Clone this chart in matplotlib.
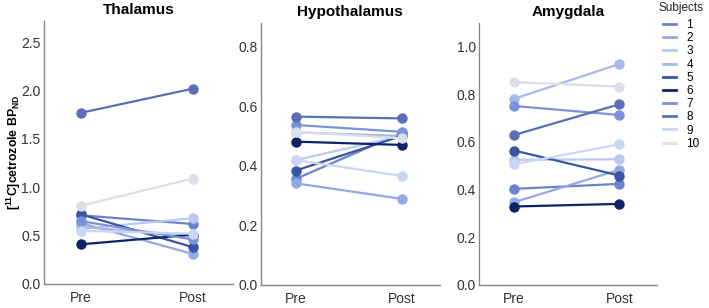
import numpy as np
import matplotlib
matplotlib.use("Agg")
import matplotlib.pyplot as plt
from matplotlib.lines import Line2D

plt.rcParams['font.family'] = ['Liberation Sans', 'DejaVu Sans']
plt.rcParams['mathtext.fontset'] = 'custom'
plt.rcParams['mathtext.rm'] = 'Liberation Sans'
plt.rcParams['mathtext.bf'] = 'Liberation Sans:bold'

# data (subjects 1..10)
subjects = ['1', '2', '3', '4', '5', '6', '7', '8', '9', '10']
colors = ['#6a84cb', '#93a9e1', '#b9c9f0', '#a6b9eb', '#3a54a4', '#0c2366',
          '#7a93d8', '#5a6fb5', '#cad6f4', '#dcdfea']
timepoints = ['Pre', 'Post']

thal_pre = [0.71, 0.63, 0.57, 0.59, 0.72, 0.41, 0.65, 1.77, 0.55, 0.81]
thal_post = [0.62, 0.31, 0.68, 0.50, 0.38, 0.51, 0.46, 2.02, 0.52, 1.09]

hypo_pre = [0.356, 0.341, 0.419, 0.512, 0.384, 0.481, 0.537, 0.565, 0.419, 0.514]
hypo_post = [0.51, 0.289, 0.50, 0.50, 0.50, 0.47, 0.514, 0.559, 0.366, 0.492]

amyg_pre = [0.403, 0.347, 0.525, 0.781, 0.564, 0.329, 0.751, 0.629, 0.506, 0.851]
amyg_post = [0.424, 0.483, 0.527, 0.927, 0.459, 0.340, 0.713, 0.758, 0.590, 0.832]

regions = ['Thalamus', 'Hypothalamus', 'Amygdala']
pre_vals = [thal_pre, hypo_pre, amyg_pre]
post_vals = [thal_post, hypo_post, amyg_post]
ylims = [2.72, 0.88, 1.10]
yticks = [np.arange(0, 2.6, 0.5), np.arange(0, 0.81, 0.2), np.arange(0, 1.01, 0.2)]
axpos = [[0.062, 0.078, 0.267, 0.854],
         [0.368, 0.075, 0.252, 0.851],
         [0.676, 0.075, 0.251, 0.851]]

fig = plt.figure(figsize=(7.09, 3.08), dpi=100)

for k in range(3):
    ax = fig.add_axes(axpos[k])
    for i in range(len(subjects)):
        ax.plot([0, 1], [pre_vals[k][i], post_vals[k][i]], '-o', color=colors[i],
                lw=1.6, ms=6.5, solid_capstyle='round')
    ax.set_xlim(-0.33, 1.36)
    ax.set_ylim(0, ylims[k])
    ax.set_yticks(yticks[k])
    ax.set_yticklabels([f"{v:.1f}" for v in yticks[k]])
    ax.set_xticks([0, 1])
    ax.set_xticklabels(timepoints)
    ax.tick_params(length=0, labelsize=10, colors='#333333')
    ax.tick_params(axis='y', pad=2.5)
    ax.tick_params(axis='x', pad=5)
    for s in ['top', 'right']:
        ax.spines[s].set_visible(False)
    for s in ['left', 'bottom']:
        ax.spines[s].set_color('#888888')
        ax.spines[s].set_linewidth(1.0)
    ax.set_title(regions[k], fontsize=11, fontweight='bold', pad=5)
    if k == 0:
        ax.set_ylabel(r"[$^{\mathbf{11}}$C]cetrozole BP$_{\mathbf{ND}}$",
                      fontsize=8.8, fontweight='bold')
        ax.yaxis.set_label_coords(-0.11, 0.5)

fig.text(0.929, 0.975, 'Subjects', fontsize=8.5, color='#222222', va='center')
handles = [Line2D([0], [0], color=c, lw=2) for c in colors]
leg = fig.legend(handles, subjects, loc='upper left',
                 bbox_to_anchor=(0.935, 0.938), frameon=False, fontsize=8.5,
                 handlelength=1.1, handletextpad=0.9,
                 labelspacing=0.1, borderaxespad=0, borderpad=0)

fig.savefig('out.png', dpi=100)
